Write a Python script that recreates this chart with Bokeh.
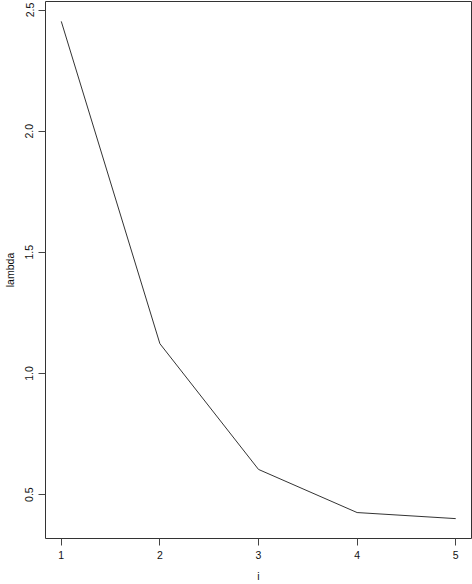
from bokeh.plotting import figure
from bokeh.models import Range1d, FixedTicker, CustomJSTickFormatter
from bokeh.embed import file_html
from bokeh.resources import INLINE

# data
i_vals = [1, 2, 3, 4, 5]
lambda_vals = [2.453, 1.123, 0.604, 0.426, 0.401]
x_ticks = [1, 2, 3, 4, 5]
y_ticks = [0.5, 1.0, 1.5, 2.0, 2.5]
y_tick_labels = ["0.5", "1.0", "1.5", "2.0", "2.5"]

def r_range(v):
    lo, hi = min(v), max(v)
    d = (hi - lo) * 0.04
    return lo - d, hi + d

xr = r_range(i_vals)
yr = r_range(lambda_vals)

FONT = "Liberation Sans"
FS = "10.5px"

p = figure(width=472, height=584, output_backend="svg", toolbar_location=None,
           x_range=Range1d(*xr), y_range=Range1d(*yr))
p.min_border_left = 45
p.min_border_right = 1
p.min_border_top = 1
p.min_border_bottom = 46
p.border_fill_color = "white"
p.background_fill_color = "white"
p.grid.visible = False
p.outline_line_color = "#333333"
p.outline_line_width = 1

p.line(i_vals, lambda_vals, line_color="#333333", line_width=1)

for ax in (p.xaxis[0], p.yaxis[0]):
    ax.axis_line_color = None
    ax.major_tick_line_color = "#444444"
    ax.major_tick_out = 7
    ax.major_tick_in = 0
    ax.minor_tick_line_color = None
    ax.major_label_text_font = FONT
    ax.major_label_text_font_size = FS
    ax.major_label_text_color = "#111111"
    ax.axis_label_text_font = FONT
    ax.axis_label_text_font_size = FS
    ax.axis_label_text_font_style = "normal"
    ax.axis_label_text_color = "#111111"

p.xaxis.ticker = FixedTicker(ticks=x_ticks)
p.xaxis.axis_label = "i"
p.xaxis.major_label_standoff = 5
p.xaxis.axis_label_standoff = 8

p.yaxis.ticker = FixedTicker(ticks=y_ticks)
p.yaxis.formatter = CustomJSTickFormatter(args=dict(labs=y_tick_labels, tks=y_ticks),
    code="const k = tks.findIndex(t => Math.abs(t - tick) < 1e-9); return k >= 0 ? labs[k] : tick.toFixed(1);")
p.yaxis.major_label_orientation = "vertical"
p.yaxis.axis_label = "lambda"
p.yaxis.major_label_standoff = 5
p.yaxis.axis_label_standoff = 7

open("out.html", "w").write(file_html(p, INLINE))
